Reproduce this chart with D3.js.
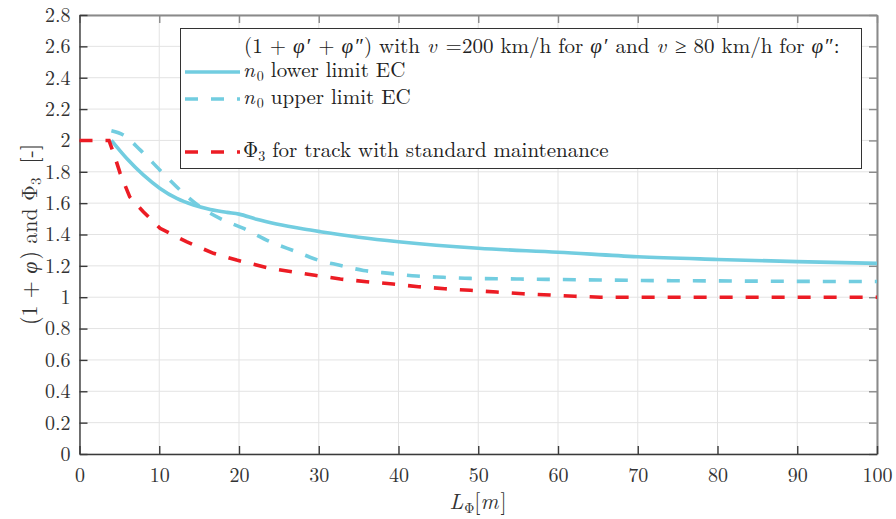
<!DOCTYPE html>
<html>
<head>
<meta charset="utf-8">
<script src="https://cdn.jsdelivr.net/npm/d3@7"></script>
<style>
  body { margin: 0; background: #fff; }
  svg { display: block; font-family: "Latin Modern Roman", "Liberation Serif", serif; }
</style>
</head>
<body>
<div id="chart"></div>
<script>
// values
const lowerX = [4, 5.9, 8, 10.1, 12.2, 14.3, 16.4, 18.5, 20, 22.2, 24.7, 28.1, 30.2, 35, 40, 50, 60, 70, 80, 90, 100];
const lowerY = [2.0, 1.886, 1.78, 1.694, 1.63, 1.588, 1.56, 1.541, 1.53, 1.497, 1.467, 1.435, 1.418, 1.383, 1.354, 1.312, 1.287, 1.258, 1.241, 1.227, 1.216];

const upperX = [4, 5.5, 7.6, 10.1, 12.6, 15.1, 17.6, 20.5, 23.9, 27.2, 29.9, 32.5, 35.6, 38.9, 42.3, 45.6, 49, 52.3, 55.2, 58.6, 65.3, 70, 80, 90, 100];
const upperY = [2.062, 2.035, 1.94, 1.81, 1.684, 1.577, 1.503, 1.44, 1.354, 1.29, 1.237, 1.205, 1.171, 1.152, 1.135, 1.127, 1.12, 1.118, 1.116, 1.114, 1.11, 1.107, 1.104, 1.101, 1.1];

const phi3X = [0, 2, 3.7, 4.4, 5.1, 6.3, 8, 10.1, 13.4, 16.8, 19.7, 23.9, 29.5, 32.7, 36, 39.3, 42.5, 45.8, 49, 52.3, 55.6, 59, 62.1, 65.3, 70, 80, 90, 100];
const phi3Y = [2.0, 2.0, 2.0, 1.9, 1.79, 1.64, 1.545, 1.44, 1.354, 1.28, 1.237, 1.184, 1.14, 1.116, 1.099, 1.084, 1.067, 1.054, 1.044, 1.033, 1.022, 1.014, 1.006, 1.0, 1.0, 1.0, 1.0, 1.0];

const xTicks = [0, 10, 20, 30, 40, 50, 60, 70, 80, 90, 100];
const yTicks = [0, 0.2, 0.4, 0.6, 0.8, 1, 1.2, 1.4, 1.6, 1.8, 2, 2.2, 2.4, 2.6, 2.8];

const cyan = "#72cde0";
const red = "#ec1c24";
const font = "'Latin Modern Roman', 'Liberation Serif', serif";

const W = 896, H = 519;
const mLeft = 79.5, mRight = 877, mTop = 15, mBottom = 454;

const svg = d3.select("#chart").append("svg")
  .attr("width", W)
  .attr("height", H);

const x = d3.scaleLinear().domain([0, 100]).range([mLeft, mRight]);
const y = d3.scaleLinear().domain([0, 2.8]).range([mBottom, mTop]);

// grid
svg.append("g")
  .selectAll("line")
  .data(xTicks)
  .join("line")
  .attr("x1", d => x(d)).attr("x2", d => x(d))
  .attr("y1", mTop).attr("y2", mBottom)
  .attr("stroke", "#e3e3e3").attr("stroke-width", 1);

svg.append("g")
  .selectAll("line")
  .data(yTicks)
  .join("line")
  .attr("x1", mLeft).attr("x2", mRight)
  .attr("y1", d => y(d)).attr("y2", d => y(d))
  .attr("stroke", "#e3e3e3").attr("stroke-width", 1);

// axes (MATLAB-like box with inward ticks on all sides)
const tickLen = 8;
const axisColor = "#3a3a3a";

const xAxisB = d3.axisBottom(x).tickValues(xTicks).tickSizeInner(-tickLen).tickSizeOuter(0).tickPadding(14);
const xAxisT = d3.axisTop(x).tickValues(xTicks).tickSizeInner(-tickLen).tickSizeOuter(0).tickFormat("");
const yAxisL = d3.axisLeft(y).tickValues(yTicks).tickSizeInner(-tickLen).tickSizeOuter(0).tickPadding(9)
  .tickFormat(d => d3.format("")(+d.toFixed(1)));
const yAxisR = d3.axisRight(y).tickValues(yTicks).tickSizeInner(-tickLen).tickSizeOuter(0).tickFormat("");

function styleAxis(g, fade) {
  g.attr("font-family", null);
  g.select(".domain").attr("stroke", fade ? "#8a8a8a" : axisColor).attr("stroke-width", fade ? 2 : 1.4);
  g.selectAll(".tick line").attr("stroke", fade ? "#8a8a8a" : axisColor).attr("stroke-width", 1.4);
  g.selectAll(".tick text")
    .attr("fill", "#333")
    .style("font-family", font)
    .style("font-size", "20px");
}

svg.append("g").attr("transform", `translate(0,${mTop})`).call(xAxisT).call(g => styleAxis(g, true));
svg.append("g").attr("transform", `translate(${mRight},0)`).call(yAxisR).call(g => styleAxis(g, true));
svg.append("g").attr("transform", `translate(0,${mBottom})`).call(xAxisB).call(g => styleAxis(g, false));
svg.append("g").attr("transform", `translate(${mLeft},0)`).call(yAxisL).call(g => styleAxis(g, false));

// lines
const series = [
  { xs: lowerX, ys: lowerY, color: cyan, dash: null, curve: d3.curveMonotoneX },
  { xs: upperX, ys: upperY, color: cyan, dash: "13,13", curve: d3.curveMonotoneX },
  { xs: phi3X, ys: phi3Y, color: red, dash: "13,13", curve: d3.curveLinear }
];

const plot = svg.append("g");
series.forEach(s => {
  const pts = s.xs.map((v, i) => [v, s.ys[i]]);
  const line = d3.line().x(d => x(d[0])).y(d => y(d[1])).curve(s.curve);
  plot.append("path")
    .datum(pts)
    .attr("d", line)
    .attr("fill", "none")
    .attr("stroke", s.color)
    .attr("stroke-width", 3.6)
    .attr("stroke-dasharray", s.dash);
});

// legend
const lg = svg.append("g");
lg.append("rect")
  .attr("x", 180.5).attr("y", 28.5)
  .attr("width", 681).attr("height", 140)
  .attr("fill", "#fff").attr("stroke", "#333").attr("stroke-width", 1);

function addText(parent, xPos, yPos, parts) {
  const t = parent.append("text")
    .attr("x", xPos).attr("y", yPos)
    .attr("fill", "#222")
    .style("font-family", font)
    .style("font-size", "21px");
  let prevItalic = false;
  parts.forEach(p => {
    const ts = t.append("tspan").text(p.t);
    if (p.i) ts.style("font-style", "italic");
    if (p.sub) ts.attr("baseline-shift", "-25%").style("font-size", "14px");
    if (prevItalic) ts.attr("dx", 2);
    prevItalic = !!p.i;
  });
  return t;
}

addText(lg, 244, 53, [
  { t: "(1 + " }, { t: "φ", i: 1 }, { t: "′ + " }, { t: "φ", i: 1 }, { t: "″) with " },
  { t: "v", i: 1 }, { t: " =200 km/h for " }, { t: "φ", i: 1 }, { t: "′ and " },
  { t: "v", i: 1 }, { t: " ≥ 80 km/h for " }, { t: "φ", i: 1 }, { t: "″:" }
]);

const legendRows = [
  { y: 72, color: cyan, dash: null, parts: [{ t: "n", i: 1 }, { t: "0", sub: 1 }, { t: " lower limit EC" }] },
  { y: 99, color: cyan, dash: "13,13", parts: [{ t: "n", i: 1 }, { t: "0", sub: 1 }, { t: " upper limit EC" }] },
  { y: 152, color: red, dash: "13,13", parts: [{ t: "Φ" }, { t: "3", sub: 1 }, { t: " for track with standard maintenance" }] }
];

legendRows.forEach(r => {
  lg.append("line")
    .attr("x1", 185).attr("x2", 240)
    .attr("y1", r.y).attr("y2", r.y)
    .attr("stroke", r.color).attr("stroke-width", 3.6)
    .attr("stroke-dasharray", r.dash);
  addText(lg, 243, r.y + 5, r.parts);
});

// axis titles
const xt = svg.append("text")
  .attr("x", 478).attr("y", 509)
  .attr("text-anchor", "middle")
  .attr("fill", "#333")
  .style("font-family", font)
  .style("font-size", "22px");
xt.append("tspan").text("L").style("font-style", "italic");
xt.append("tspan").text("Φ").attr("dx", 1).attr("baseline-shift", "-25%").style("font-size", "14px");
xt.append("tspan").text("[");
xt.append("tspan").text("m").style("font-style", "italic");
xt.append("tspan").text("]").attr("dx", 2);

const yt = svg.append("text")
  .attr("transform", `translate(37,${(mTop + mBottom) / 2}) rotate(-90)`)
  .attr("text-anchor", "middle")
  .attr("fill", "#333")
  .style("font-family", font)
  .style("font-size", "22px");
yt.append("tspan").text("(1 + ");
yt.append("tspan").text("φ").style("font-style", "italic");
yt.append("tspan").text(") and Φ").attr("dx", 2);
yt.append("tspan").text("3").attr("baseline-shift", "-25%").style("font-size", "15px");
yt.append("tspan").text("[-]").attr("dx", 14);
</script>
</body>
</html>
